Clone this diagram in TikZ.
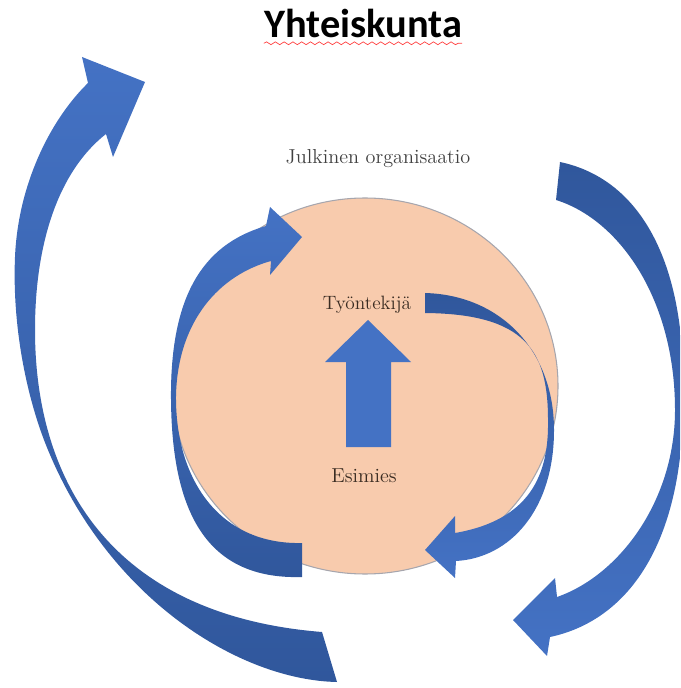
\documentclass[tikz,border=0pt]{standalone}
\usepackage{fontspec}
\newfontfamily\headfont{Carlito}
\usetikzlibrary{shapes,calc,decorations.pathmorphing}

\definecolor{orgfill}{HTML}{F8CBAD}
\definecolor{orgrim}{HTML}{A6A6AE}
\definecolor{flowlight}{HTML}{4472C4}
\definecolor{flowdark}{HTML}{30579C}
\definecolor{labelink}{HTML}{3A2C22}

\begin{document}
\begin{tikzpicture}[x=0.02cm,y=-0.02cm,
  flowdown/.style={top color=flowlight,bottom color=flowdark},
  flowup/.style={top color=flowdark,bottom color=flowlight},
  lbl/.style={font=\fontsize{11.5}{13}\selectfont,text=labelink}]
  \useasboundingbox (0,0) rectangle (680,688);
  \clip (0,0) rectangle (680,688);
  \node[font=\headfont\bfseries\fontsize{23}{27}\selectfont,inner sep=0,anchor=base] (Title) at (363,38) {Yhteiskunta};
  \draw[red!75,decorate,decoration={snake,amplitude=0.8pt,segment length=5pt}]
    ([yshift=-3pt]Title.base west) -- ([yshift=-3pt]Title.base east);
  % the organisation
  \path[fill=orgfill,draw=orgrim,line width=0.6pt] (365,386) ellipse [x radius=193,y radius=188];
  % society, left and right
  \path[flowdown] (337,682) .. controls (240,680) and (110,600) .. (48,450)
    .. controls (28,402) and (12,330) .. (15,257)
    .. controls (18,185) and (50,120) .. (88,83)
    -- (82,57) -- (145,82) -- (113,157) -- (106,134)
    .. controls (60,170) and (35,240) .. (35,330)
    .. controls (35,480) and (110,615) .. (322,632) -- cycle;
  \path[flowup] (560,162) .. controls (645,180) and (685,270) .. (683,390)
    .. controls (686,540) and (630,620) .. (550,637)
    -- (547,656) -- (513,620) -- (555,578) -- (557,597)
    .. controls (620,575) and (675,500) .. (675,410)
    .. controls (675,300) and (620,220) .. (556,200) -- cycle;
  % inside the organisation
  \path[flowdown] (302,577) .. controls (205,580) and (172,510) .. (171,400)
    .. controls (170,300) and (200,245) .. (266,226)
    -- (270,207) -- (302,237) -- (270,275) -- (271,261)
    .. controls (220,275) and (178,320) .. (176,395)
    .. controls (175,480) and (220,545) .. (302,543) -- cycle;
  \path[flowup] (425,293) .. controls (500,295) and (554,350) .. (554,430)
    .. controls (554,510) and (510,558) .. (456,561)
    -- (455,578) -- (425,550) -- (455,516) -- (455,533)
    .. controls (530,520) and (549,475) .. (548,420)
    .. controls (548,350) and (525,314) .. (425,313) -- cycle;
  \path[fill=flowlight] (346,447) -- (346,362) -- (325,362) -- (368,320) -- (411,362) -- (391,362) -- (391,447) -- cycle;
  \node[lbl,text=black!75] (Org) at (378,159) {Julkinen organisaatio};
  \node[lbl,font=\fontsize{11}{13}\selectfont] (Worker) at (367,305) {Työntekijä};
  \node[lbl] (Boss) at (364,476) {Esimies};
\end{tikzpicture}
\end{document}
